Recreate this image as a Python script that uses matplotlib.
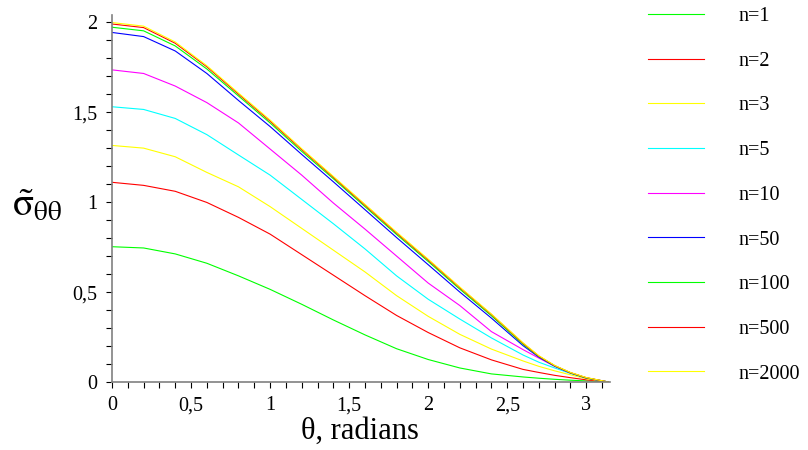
import numpy as np
import matplotlib
matplotlib.use('Agg')
import matplotlib.pyplot as plt
from matplotlib.ticker import MultipleLocator, FuncFormatter

plt.rcParams['font.family'] = ['Liberation Serif', 'DejaVu Serif']
plt.rcParams['mathtext.fontset'] = 'stix'

# angulo (rad)
theta = [0, 0.2, 0.4, 0.6, 0.8, 1.0, 1.2, 1.4, 1.6, 1.8, 2.0, 2.2, 2.4, 2.6, 2.7, 2.8, 2.9, 3.0, 3.14]

# valores
n1 = [0.752, 0.745, 0.712, 0.660, 0.590, 0.515, 0.432, 0.345, 0.262, 0.185, 0.125, 0.078, 0.045, 0.028, 0.021, 0.015, 0.010, 0.006, 0.0]
n2 = [1.110, 1.093, 1.060, 0.998, 0.915, 0.822, 0.708, 0.594, 0.480, 0.370, 0.275, 0.190, 0.123, 0.070, 0.053, 0.037, 0.024, 0.012, 0.0]
n3 = [1.315, 1.300, 1.252, 1.165, 1.085, 0.975, 0.854, 0.733, 0.612, 0.480, 0.365, 0.265, 0.183, 0.117, 0.087, 0.062, 0.040, 0.018, 0.0]
n5 = [1.530, 1.515, 1.465, 1.375, 1.262, 1.150, 1.015, 0.880, 0.740, 0.590, 0.460, 0.350, 0.245, 0.150, 0.110, 0.078, 0.048, 0.022, 0.0]
n10 = [1.735, 1.715, 1.645, 1.553, 1.440, 1.295, 1.150, 0.995, 0.850, 0.700, 0.550, 0.425, 0.280, 0.180, 0.133, 0.087, 0.051, 0.023, 0.0]
n50 = [1.943, 1.920, 1.840, 1.715, 1.565, 1.420, 1.265, 1.113, 0.958, 0.803, 0.652, 0.500, 0.355, 0.202, 0.138, 0.088, 0.050, 0.022, 0.0]
n100 = [1.972, 1.952, 1.868, 1.740, 1.590, 1.440, 1.282, 1.130, 0.975, 0.820, 0.670, 0.516, 0.368, 0.210, 0.142, 0.090, 0.051, 0.023, 0.0]
n500 = [1.990, 1.970, 1.883, 1.752, 1.600, 1.450, 1.292, 1.138, 0.983, 0.828, 0.678, 0.524, 0.375, 0.215, 0.144, 0.091, 0.052, 0.024, 0.0]
n2000 = [1.998, 1.978, 1.890, 1.758, 1.606, 1.456, 1.297, 1.143, 0.988, 0.833, 0.683, 0.528, 0.378, 0.218, 0.146, 0.092, 0.053, 0.025, 0.0]

etiquetas = ['n=1', 'n=2', 'n=3', 'n=5', 'n=10', 'n=50', 'n=100', 'n=500', 'n=2000']
series = [n1, n2, n3, n5, n10, n50, n100, n500, n2000]
colores = ['#00ff00', '#ff0000', '#ffff00', '#00ffff', '#ff00ff', '#0000ff', '#00ff00', '#ff0000', '#ffff00']

fig = plt.figure(figsize=(8.08, 4.5), dpi=100)
ax = fig.add_axes([112 / 808, 68 / 450, 498 / 808, 367 / 450])

lineas = []
for y, c, lab in zip(series, colores, etiquetas):
    l, = ax.plot(theta, y, color=c, lw=0.8, label=lab)
    lineas.append(l)

ax.set_xlim(0, 3.15)
ax.set_ylim(0, 2.04)

for s in ['top', 'right']:
    ax.spines[s].set_visible(False)
for s in ['left', 'bottom']:
    ax.spines[s].set_color('#808080')
    ax.spines[s].set_linewidth(1.2)

coma = FuncFormatter(lambda v, p: ('%g' % v).replace('.', ','))
ax.xaxis.set_major_locator(MultipleLocator(0.5))
ax.xaxis.set_minor_locator(MultipleLocator(0.1))
ax.yaxis.set_major_locator(MultipleLocator(0.5))
ax.yaxis.set_minor_locator(MultipleLocator(0.1))
ax.xaxis.set_major_formatter(coma)
ax.yaxis.set_major_formatter(coma)
ax.tick_params(which='both', direction='out', length=4.3, width=0.8, color='black', labelsize=14.5)
ax.tick_params(axis='x', which='major', pad=6)
ax.tick_params(axis='y', which='major', pad=6)

fig.text(360 / 808, 1 - 431 / 450, 'θ, radians', fontsize=22, ha='center', va='center')
fig.text(37 / 808, 1 - 206 / 450, r'$\tilde{\mathrm{\sigma}}_{\mathrm{\theta\theta}}$', fontsize=28,
         ha='center', va='center')

fig.legend(handles=lineas, loc='upper left', bbox_to_anchor=(642 / 808, 1 - 1 / 450),
           frameon=False, fontsize=14.5, handlelength=2.8, handletextpad=1.7,
           labelspacing=1.27, borderaxespad=0, borderpad=0.3)

fig.savefig('out.png', dpi=100)
